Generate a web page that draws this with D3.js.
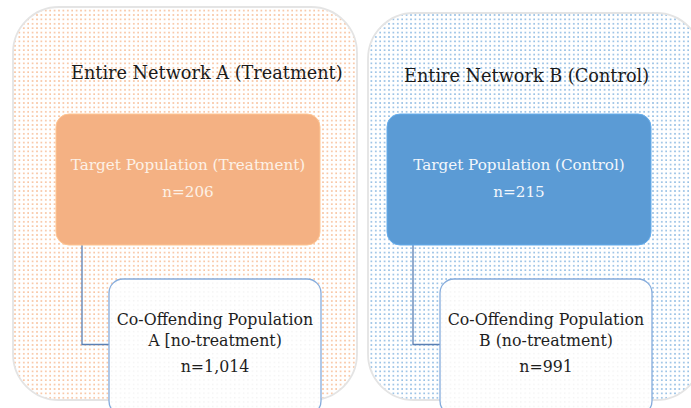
<!DOCTYPE html>
<html>
<head>
<meta charset="utf-8">
<script src="https://cdn.jsdelivr.net/npm/d3@7"></script>
<style>
  html, body { margin: 0; padding: 0; background: #fff; }
  svg { display: block; }
</style>
</head>
<body>
<svg id="chart"></svg>
<script>
// diagram content
const groups = ["A", "B"];
const networkTitles = ["Entire Network A (Treatment)", "Entire Network B (Control)"];
const targetLabels = ["Target Population (Treatment)", "Target Population (Control)"];
const targetN = [206, 215];
const coLabels = [["Co-Offending Population", "A [no-treatment)"], ["Co-Offending Population", "B (no-treatment)"]];
const coN = [1014, 991];

const width = 691, height = 408;
const svg = d3.select("#chart").attr("width", width).attr("height", height);

const orange = "#f4b183", blue = "#5b9bd5";
const color = d3.scaleOrdinal().domain(groups).range([orange, blue]);
const dotColor = d3.scaleOrdinal().domain(groups).range(["#f4a36c", "#5b9bd5"]);
const panelX = d3.scaleOrdinal().domain(groups).range([13, 368]);
const panelW = d3.scaleOrdinal().domain(groups).range([344, 334]);
const panelY = d3.scaleOrdinal().domain(groups).range([7, 13]);
const titleY = d3.scaleOrdinal().domain(groups).range([79, 82]);
const titleX = d3.scaleOrdinal().domain(groups).range([71, 404]);
// inner content offset per group
const ox = d3.scaleOrdinal().domain(groups).range([56, 387]);

const fmt = d3.format(",");
const defs = svg.append("defs");

groups.forEach(g => {
  const p = defs.append("pattern")
    .attr("id", "dots" + g)
    .attr("width", 4.4).attr("height", 4.4)
    .attr("patternUnits", "userSpaceOnUse");
  p.append("rect").attr("width", 4.4).attr("height", 4.4).attr("fill", "#fff");
  p.append("rect").attr("x", 1).attr("y", 1).attr("width", 1.6).attr("height", 1.6)
    .attr("fill", dotColor(g)).attr("opacity", 0.7);
});
const pw = defs.append("pattern")
  .attr("id", "dotsW").attr("width", 4.4).attr("height", 4.4)
  .attr("patternUnits", "userSpaceOnUse");
pw.append("rect").attr("width", 4.4).attr("height", 4.4).attr("fill", "#fff");
pw.append("rect").attr("x", 1).attr("y", 1).attr("width", 1.2).attr("height", 1.2).attr("fill", "#efefef");

const data = groups.map((g, i) => ({
  g, title: networkTitles[i], target: targetLabels[i], tn: targetN[i], co: coLabels[i], cn: coN[i]
}));

const panels = svg.selectAll("g.panel").data(data).enter().append("g").attr("class", "panel");

// outer network panel
panels.append("rect")
  .attr("x", d => panelX(d.g))
  .attr("y", d => panelY(d.g))
  .attr("width", d => panelW(d.g))
  .attr("height", d => 393 - panelY(d.g) + 7)
  .attr("rx", 46)
  .attr("fill", d => `url(#dots${d.g})`)
  .attr("stroke", "#e4e4e4")
  .attr("stroke-width", 1.8);

panels.append("text")
  .attr("x", d => titleX(d.g))
  .attr("y", d => titleY(d.g))
  .attr("font-family", "DejaVu Serif")
  .attr("font-size", 17.7)
  .attr("fill", "#1a1a1a")
  .text(d => d.title);

// connector
panels.append("path")
  .attr("d", d => `M${ox(d.g) + 26},245 V344.5 H${ox(d.g) + 53}`)
  .attr("fill", "none")
  .attr("stroke", "#5a7fb3")
  .attr("stroke-width", 1.3);

// target box
panels.append("rect")
  .attr("x", d => ox(d.g))
  .attr("y", 114)
  .attr("width", 264)
  .attr("height", 131)
  .attr("rx", 13)
  .attr("fill", d => color(d.g))
  .attr("stroke", d => d3.color(color(d.g)).brighter(0.3))
  .attr("stroke-width", 1);

const tt = panels.append("text")
  .attr("text-anchor", "middle")
  .attr("font-family", "DejaVu Serif")
  .attr("font-size", 15.2)
  .attr("fill", d => d.g === "A" ? "#fdf1e7" : "#f3f7fc");
tt.append("tspan").attr("x", d => ox(d.g) + 132).attr("y", 170).text(d => d.target);
tt.append("tspan").attr("x", d => ox(d.g) + 132).attr("y", 197).text(d => "n=" + fmt(d.tn));

// co-offending box
panels.append("rect")
  .attr("x", d => ox(d.g) + 53)
  .attr("y", 279)
  .attr("width", 212)
  .attr("height", 136)
  .attr("rx", 14)
  .attr("fill", "url(#dotsW)")
  .attr("stroke", "#86acdc")
  .attr("stroke-width", 1.3);

const ct = panels.append("text")
  .attr("text-anchor", "middle")
  .attr("font-family", "DejaVu Serif")
  .attr("font-size", 15.8)
  .attr("fill", "#1e1e1e");
ct.append("tspan").attr("x", d => ox(d.g) + 159).attr("y", 325).text(d => d.co[0]);
ct.append("tspan").attr("x", d => ox(d.g) + 159).attr("y", 346).text(d => d.co[1]);
ct.append("tspan").attr("x", d => ox(d.g) + 159).attr("y", 372).text(d => "n=" + fmt(d.cn));
</script>
</body>
</html>
